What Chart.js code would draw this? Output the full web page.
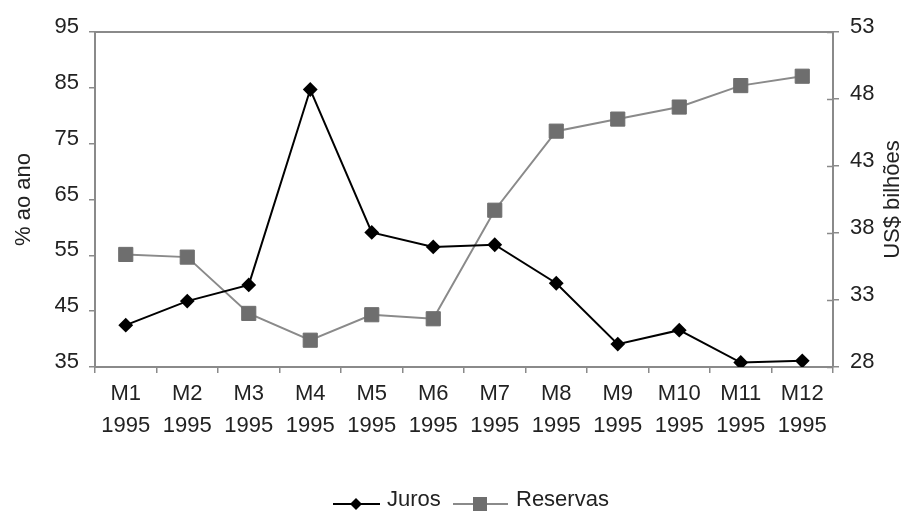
<!DOCTYPE html>
<html>
<head>
<meta charset="utf-8">
<script src="https://cdn.jsdelivr.net/npm/chart.js@4.4.1/dist/chart.umd.min.js"></script>
<style>
  html, body { margin: 0; padding: 0; background: #fff; }
  #chart { display: block; }
</style>
</head>
<body>
<canvas id="chart" width="905" height="513"></canvas>
<script>
// valores
var meses = ['M1', 'M2', 'M3', 'M4', 'M5', 'M6', 'M7', 'M8', 'M9', 'M10', 'M11', 'M12'];
var ano = '1995';
var juros = [42.5, 46.8, 49.7, 84.7, 59.1, 56.5, 56.9, 50.0, 39.1, 41.6, 35.8, 36.1];
var reservas = [36.4, 36.2, 32.0, 30.0, 31.9, 31.6, 39.7, 45.6, 46.5, 47.4, 49.0, 49.7];
var ticksJuros = [35, 45, 55, 65, 75, 85, 95];
var ticksReservas = [28, 33, 38, 43, 48, 53];

var FONT = "'Liberation Sans', Arial, sans-serif";
var FS = 22;
var AXIS = '#8a8a8a';
var TXT = '#222';
var CINZA = '#6e6e6e';

Chart.defaults.font.family = FONT;
Chart.defaults.font.size = FS;
Chart.defaults.color = TXT;

// titulo do eixo direito (lido de baixo para cima), marcas internas do eixo direito e legenda
var extras = {
    id: 'extras',
    afterDraw: function (chart) {
        var ctx = chart.ctx;
        var a = chart.chartArea;
        var s1 = chart.scales.y1;
        ctx.save();

        // marcas do eixo direito cruzando a linha
        ctx.strokeStyle = AXIS;
        ctx.lineWidth = 1.5;
        ticksReservas.forEach(function (v) {
            var py = Math.round(s1.getPixelForValue(v)) + 0.5;
            ctx.beginPath(); ctx.moveTo(a.right - 6, py); ctx.lineTo(a.right, py); ctx.stroke();
        });

        ctx.font = FS + 'px ' + FONT;
        ctx.fillStyle = TXT;
        ctx.textBaseline = 'middle';

        ctx.save();
        ctx.translate(893, (a.top + a.bottom) / 2);
        ctx.rotate(-Math.PI / 2);
        ctx.textAlign = 'center';
        ctx.fillText('US$ bilhões', 0, 0);
        ctx.restore();

        // legenda
        var ly = 504, ty = 500;
        var ds = chart.data.datasets;
        ctx.lineWidth = 2;
        // Juros
        ctx.strokeStyle = ds[0].borderColor;
        ctx.beginPath(); ctx.moveTo(333, ly); ctx.lineTo(380, ly); ctx.stroke();
        ctx.fillStyle = ds[0].pointBackgroundColor;
        ctx.beginPath();
        ctx.moveTo(356, ly - 6); ctx.lineTo(362, ly); ctx.lineTo(356, ly + 6); ctx.lineTo(350, ly);
        ctx.closePath(); ctx.fill();
        // Reservas
        ctx.strokeStyle = ds[1].borderColor;
        ctx.beginPath(); ctx.moveTo(453, ly); ctx.lineTo(508, ly); ctx.stroke();
        ctx.fillStyle = ds[1].pointBackgroundColor;
        ctx.fillRect(480 - 7, ly - 7, 14, 14);

        ctx.fillStyle = TXT;
        ctx.textAlign = 'left';
        ctx.fillText(ds[0].label, 387, ty);
        ctx.fillText(ds[1].label, 516, ty);
        ctx.restore();
    }
};

var labels = meses.map(function (m) { return [m, ano]; });

new Chart(document.getElementById('chart'), {
    type: 'line',
    data: {
        labels: labels,
        datasets: [
            {
                label: 'Juros',
                data: juros,
                yAxisID: 'y',
                borderColor: '#000',
                backgroundColor: '#000',
                borderWidth: 2,
                pointStyle: 'rectRot',
                pointRadius: 6,
                pointBackgroundColor: '#000',
                pointBorderColor: '#000',
                tension: 0
            },
            {
                label: 'Reservas',
                data: reservas,
                yAxisID: 'y1',
                borderColor: '#8a8a8a',
                backgroundColor: CINZA,
                borderWidth: 2,
                pointStyle: 'rect',
                pointRadius: 10,
                pointBackgroundColor: CINZA,
                pointBorderColor: CINZA,
                pointBorderWidth: 1,
                tension: 0
            }
        ]
    },
    options: {
        responsive: false,
        animation: false,
        devicePixelRatio: 1,
        layout: { padding: { left: 0, right: 0, top: 0, bottom: 30 } },
        plugins: {
            tooltip: { enabled: false },
            legend: { display: false }
        },
        scales: {
            x: {
                type: 'category',
                offset: true,
                afterFit: function (s) { s.height = 116; },
                grid: { offset: true, drawOnChartArea: false, drawTicks: true, tickLength: 6, color: AXIS, lineWidth: 1.5 },
                border: { color: AXIS, width: 2 },
                ticks: { color: TXT, padding: 5, maxRotation: 0, autoSkip: false, font: { size: FS, lineHeight: 1.45 } }
            },
            x2: {
                type: 'category',
                position: 'top',
                labels: labels,
                afterFit: function (s) { s.height = 32; },
                grid: { drawOnChartArea: false, drawTicks: false },
                border: { color: AXIS, width: 2 },
                ticks: { display: false }
            },
            y: {
                position: 'left',
                min: 35,
                max: 95,
                afterFit: function (s) { s.width = 95; },
                afterBuildTicks: function (s) { s.ticks = ticksJuros.map(function (v) { return { value: v }; }); },
                grid: { drawOnChartArea: false, tickLength: 6, color: AXIS, lineWidth: 1.5 },
                border: { color: AXIS, width: 2 },
                ticks: { color: TXT, padding: 10, labelOffset: -5, font: { size: FS } },
                title: { display: true, text: '% ao ano', color: TXT, font: { size: FS }, padding: { top: 11, bottom: 0 } }
            },
            y1: {
                position: 'right',
                min: 28,
                max: 53,
                afterFit: function (s) { s.width = 72; },
                afterBuildTicks: function (s) { s.ticks = ticksReservas.map(function (v) { return { value: v }; }); },
                grid: { drawOnChartArea: false, tickLength: 6, color: AXIS, lineWidth: 1.5 },
                border: { color: AXIS, width: 2 },
                ticks: { color: TXT, padding: 11, labelOffset: -5, font: { size: FS } }
            }
        }
    },
    plugins: [extras]
});
</script>
</body>
</html>
